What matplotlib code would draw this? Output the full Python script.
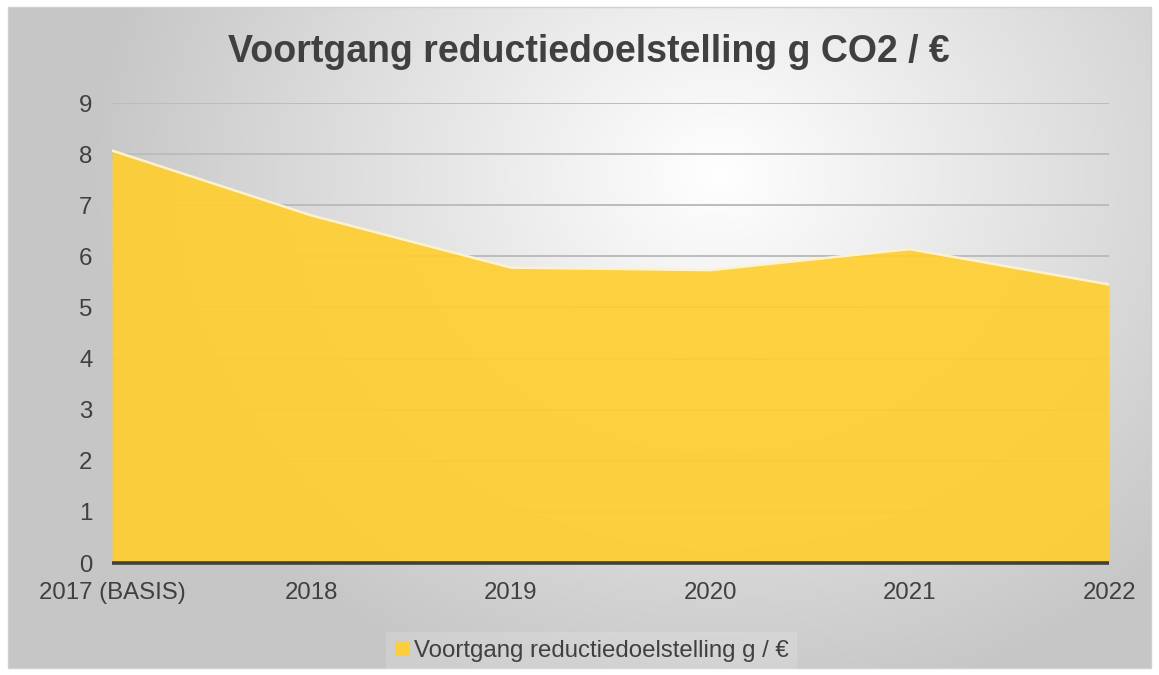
import numpy as np
import matplotlib
matplotlib.use("Agg")
from matplotlib import pyplot as plt
from matplotlib.patches import Rectangle

plt.rcParams['font.family'] = ['Liberation Sans', 'DejaVu Sans']

years = ['2017 (BASIS)', '2018', '2019', '2020', '2021', '2022']
values = [8.07, 6.8, 5.78, 5.73, 6.14, 5.45]
series_name = 'Voortgang reductiedoelstelling g / €'
title = 'Voortgang reductiedoelstelling g CO2 / €'

W, H = 1159, 675
fig = plt.figure(figsize=(W / 100, H / 100), dpi=100)
fig.patch.set_facecolor('white')

# radial grey background of the chart area
bg = fig.add_axes([0, 0, 1, 1], zorder=0)
bg.set_xlim(0, W)
bg.set_ylim(H, 0)
bg.axis('off')
xx, yy = np.meshgrid(np.arange(W), np.arange(H))
t = np.sqrt(((xx - 720) / 640.0) ** 2 + ((yy - 170) / 560.0) ** 2)
shade = 255 - 57 * np.clip(t, 0, 1)
img = np.dstack([shade, shade, shade]) / 255.0
bg.imshow(img, extent=(8, 1151, 668, 7), aspect='auto')
bg.add_patch(Rectangle((8, 7), 1143, 661, fill=False, edgecolor='#d0d0d0', lw=1))

ax = fig.add_axes([112 / W, 1 - 563 / H, (1109 - 112) / W, (563 - 103) / H], zorder=1)
ax.patch.set_alpha(0)
x = np.arange(len(years))
for yv in range(1, 10):
    ax.axhline(yv, color='#bcbcbc', lw=1.4, zorder=1)
ax.fill_between(x, values, 0, color='#FFCE2C', alpha=0.9, lw=0, zorder=2,
                label=series_name)
ax.plot(x, values, color='#FFF2C8', lw=1.8, zorder=3)
ax.axhline(0, color='#404040', lw=2.6, zorder=5, solid_capstyle='butt', clip_on=False)

ax.set_xlim(0, len(years) - 1)
ax.set_ylim(0, 9)
ax.set_yticks(range(0, 10))
ax.set_xticks(x)
ax.set_xticklabels(years)

for s in ax.spines.values():
    s.set_visible(False)
ax.tick_params(axis='both', length=0, labelsize=17.3, colors='#404040')
ax.tick_params(axis='y', pad=14)
ax.tick_params(axis='x', pad=14)

fig.text(589 / W, 1 - 52 / H, title, ha='center', va='center',
         fontsize=27, fontweight='bold', color='#404040')

leg = ax.legend(loc='center', bbox_to_anchor=(0.481, -0.192), frameon=True,
                fontsize=17.3, handlelength=0.6, handleheight=0.6,
                handletextpad=0.2, borderpad=0.35, fancybox=False)
leg.get_frame().set_facecolor('white')
leg.get_frame().set_alpha(0.15)
leg.get_frame().set_edgecolor('none')
for txt in leg.get_texts():
    txt.set_color('#404040')

plt.savefig('out.png', dpi=100)
